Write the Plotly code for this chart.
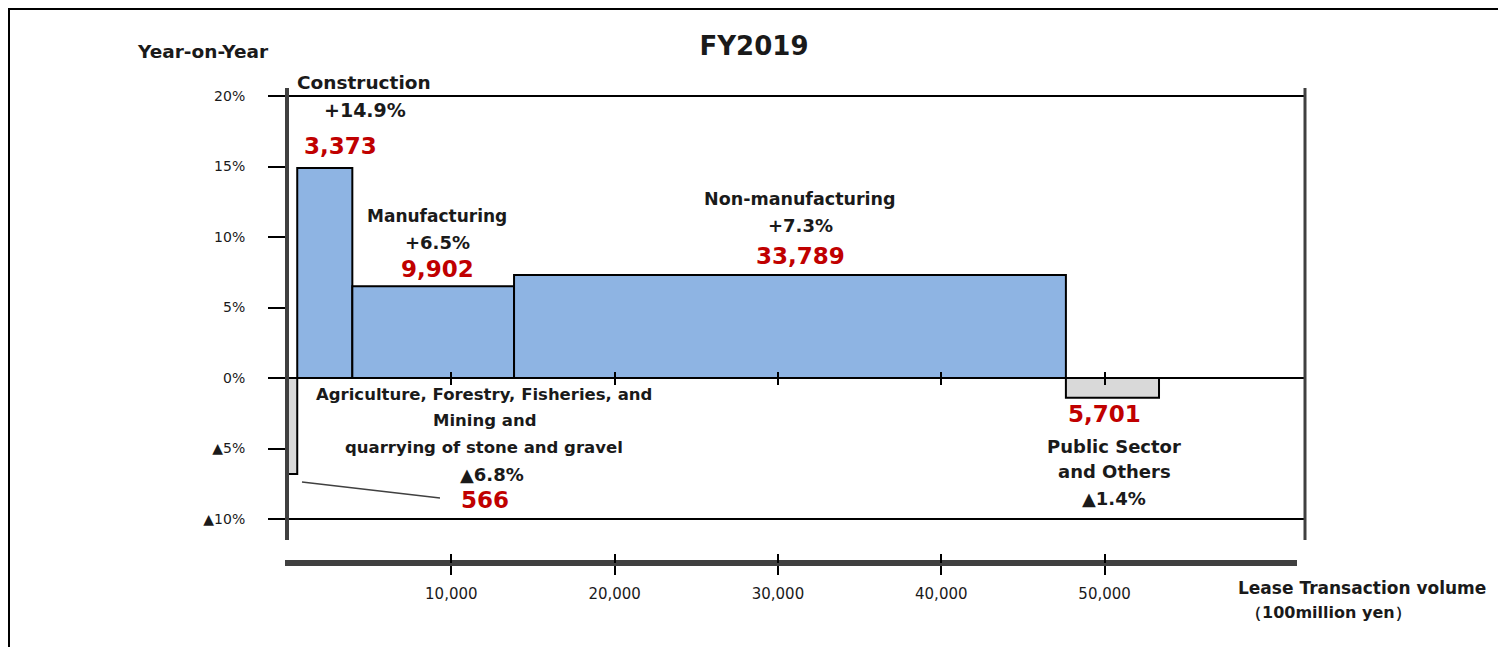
import plotly.graph_objects as go

# ---- data ----
categories = ["Agriculture, Forestry, Fisheries, and Mining and quarrying of stone and gravel",
              "Construction", "Manufacturing", "Non-manufacturing", "Public Sector and Others"]
volume = [566, 3373, 9902, 33789, 5701]          # lease transaction volume (100 million yen)
yoy = [-6.8, 14.9, 6.5, 7.3, -1.4]                # year-on-year change (%)

yoy_tickvals = [20, 15, 10, 5, 0, -5, -10]
yoy_ticktext = ["20%", "15%", "10%", "5%", "0%", "▲5%", "▲10%"]
vol_tickvals = [10000, 20000, 30000, 40000, 50000]
vol_ticktext = ["10,000", "20,000", "30,000", "40,000", "50,000"]

# bar geometry derived from the data
lefts = [sum(volume[:i]) for i in range(len(volume))]
centers = [l + w / 2 for l, w in zip(lefts, volume)]
colors = ["#8EB4E3" if v >= 0 else "#D9D9D9" for v in yoy]

# ---- layout constants (page has an 8px body margin) ----
W, H = 1498, 639
ML, MR, MT, MB = 262, 201, 80, 84
PW, PH = W - ML - MR, H - MT - MB
X_RANGE = [-1102, 62270]
Y_RANGE = [-11.49, 20.57]
Y_DOM0 = 23 / PH
k = PW / (X_RANGE[1] - X_RANGE[0])           # px per unit
bot_dom = [15 / PW, 1027 / PW]
bot_range = [X_RANGE[0] + 15 / k, X_RANGE[0] + 1027 / k]
zero_pos = Y_DOM0 + (0 - Y_RANGE[0]) / (Y_RANGE[1] - Y_RANGE[0]) * (1 - Y_DOM0)


def px(sx):  # screen x -> paper x
    return (sx - 270) / PW


def py(sy):  # screen y -> paper y
    return (563 - sy) / PH


FONT = "DejaVu Sans"
BOLD = dict(family=FONT, size=17, color="#1a1a1a", weight="bold")
RED = dict(family=FONT, size=23, color="#C00000", weight="bold")

fig = go.Figure()
fig.add_trace(go.Bar(x=centers, y=yoy, width=volume, marker=dict(color=colors, line=dict(color="black", width=2)),
                     hovertext=categories, showlegend=False))
# helper traces so the extra axes are drawn
for xa, ya in [("x2", "y"), ("x3", "y"), ("x4", "y"), ("x5", "y"), ("x", "y2")]:
    fig.add_trace(go.Scatter(x=[], y=[], xaxis=xa, yaxis=ya, showlegend=False))

axis_common = dict(showgrid=False, zeroline=False)
tick_common = dict(tickwidth=2, tickcolor="black")
fig.update_layout(
    width=W, height=H, margin=dict(l=ML, r=MR, t=MT, b=MB),
    paper_bgcolor="white", plot_bgcolor="rgba(0,0,0,0)",
    title=dict(text="FY2019", x=(754 - 8) / W, xanchor="center", y=1 - 38 / H, yanchor="middle",
               font=dict(family=FONT, size=26, color="#1a1a1a", weight="bold")),
    xaxis=dict(domain=[0, 1], range=X_RANGE, showticklabels=False, ticks="", showline=False, **axis_common),
    xaxis2=dict(domain=bot_dom, range=bot_range, anchor="free", position=0, showline=True, linewidth=6,
                linecolor="#404040", ticks="outside", ticklen=9, tickvals=vol_tickvals, ticktext=vol_ticktext,
                ticklabelstandoff=6, tickfont=dict(family=FONT, size=15, color="#1a1a1a"),
                **tick_common, **axis_common),
    xaxis5=dict(overlaying="x2", range=bot_range, anchor="free", position=0, side="bottom",
                ticks="inside", ticklen=9, tickvals=vol_tickvals, showticklabels=False, showline=False,
                **tick_common, **axis_common),
    xaxis3=dict(overlaying="x", range=X_RANGE, anchor="free", position=zero_pos, side="bottom",
                ticks="outside", ticklen=6, tickvals=vol_tickvals, showticklabels=False, showline=False,
                **tick_common, **axis_common),
    xaxis4=dict(overlaying="x", range=X_RANGE, anchor="free", position=zero_pos, side="bottom",
                ticks="inside", ticklen=6, tickvals=vol_tickvals, showticklabels=False, showline=False,
                **tick_common, **axis_common),
    yaxis=dict(domain=[Y_DOM0, 1], range=Y_RANGE, anchor="free", position=17 / PW, showline=True,
               linewidth=4, linecolor="#404040", ticks="outside", ticklen=17, tickvals=yoy_tickvals,
               ticktext=yoy_ticktext, ticklabelstandoff=20,
               tickfont=dict(family=FONT, size=14, color="#1a1a1a"), **tick_common, **axis_common),
    yaxis2=dict(overlaying="y", range=Y_RANGE, anchor="x", tickvals=[-10, 0, 20], showticklabels=False,
                ticks="", showgrid=True, gridcolor="black", gridwidth=2, zeroline=False, showline=False),
)

# frame and right border
fig.add_shape(type="rect", xref="paper", yref="paper", x0=px(9), x1=px(1503), y0=py(700), y1=py(9),
              line=dict(color="black", width=2))
fig.add_shape(type="line", xref="paper", yref="y domain", x0=1, x1=1, y0=0, y1=1,
              line=dict(color="#404040", width=3))
# leader line for the small agriculture bar
fig.add_shape(type="line", xref="paper", yref="paper", x0=px(302), y0=py(482), x1=px(440), y1=py(498),
              line=dict(color="#404040", width=1.5))

# category labels: (text, screen x, screen y, font)
labels = [
    ("Construction", 364, 82, BOLD | dict(size=18.5)),
    ("+14.9%", 365, 110, BOLD | dict(size=19)),
    ("3,373", 340, 146, RED),
    ("Manufacturing", 437, 216, BOLD),
    ("+6.5%", 437, 242, BOLD | dict(size=18)),
    ("9,902", 437, 269, RED),
    ("Non-manufacturing", 800, 199, BOLD | dict(size=17.5)),
    ("+7.3%", 800, 226, BOLD | dict(size=18)),
    ("33,789", 800, 256, RED),
    ("Agriculture, Forestry, Fisheries, and", 484, 394, BOLD | dict(size=16.5)),
    ("Mining and", 484, 420, BOLD | dict(size=16.5)),
    ("quarrying of stone and gravel", 484, 447, BOLD | dict(size=16.5)),
    ("▲6.8%", 492, 474, BOLD | dict(size=18)),
    ("566", 485, 500, RED),
    ("5,701", 1104, 414, RED),
    ("Public Sector", 1114, 446, BOLD | dict(size=18)),
    ("and Others", 1114, 471, BOLD | dict(size=18)),
    ("▲1.4%", 1114, 498, BOLD | dict(size=18)),
    ("Year-on-Year", 203, 52, BOLD | dict(size=18.5)),
    ("Lease Transaction volume", 1362, 588, BOLD),
    ("（100million yen）", 1328, 612, BOLD | dict(size=16)),
]
for text, sx, sy, font in labels:
    fig.add_annotation(x=px(sx), y=py(sy), xref="paper", yref="paper", text=text, showarrow=False,
                       font=font, xanchor="center", yanchor="middle")

fig.write_html("out.html")
